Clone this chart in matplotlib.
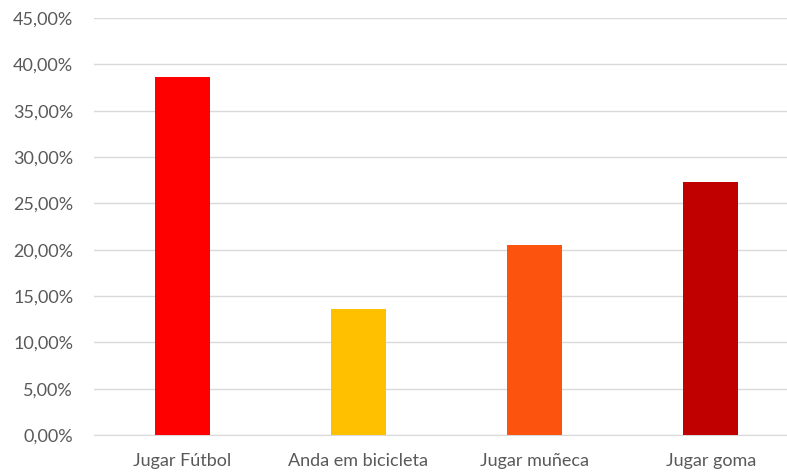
import matplotlib
matplotlib.use("Agg")
import matplotlib.pyplot as plt
from matplotlib.ticker import FuncFormatter, MultipleLocator

# Actividades preferidas (porcentaje de respuestas)
categorias = ["Jugar Fútbol", "Anda em bicicleta", "Jugar muñeca", "Jugar goma"]
porcentajes = [38.64, 13.64, 20.45, 27.27]
colores = ["#FF0000", "#FFC000", "#FC540E", "#C00000"]

plt.rcParams["font.family"] = ["Lato", "DejaVu Sans"]

fig = plt.figure(figsize=(7.87, 4.74), dpi=100)
ax = fig.add_axes([94 / 787, 39 / 474, 705 / 787, 417 / 474])

x = range(len(categorias))
ax.bar(x, porcentajes, width=0.312, color=colores, zorder=3)

ax.set_xlim(-0.5, len(categorias) - 0.5)
ax.set_ylim(0, 45)
ax.yaxis.set_major_locator(MultipleLocator(5))
ax.yaxis.set_major_formatter(FuncFormatter(lambda v, p: f"{v:.2f}%".replace(".", ",")))
ax.set_xticks(list(x))
ax.set_xticklabels(categorias)

ax.grid(axis="y", color="#D9D9D9", linewidth=1.0, zorder=0)
for s in ["top", "right", "left"]:
    ax.spines[s].set_visible(False)
ax.spines["bottom"].set_color("#D9D9D9")
ax.tick_params(axis="both", length=0, colors="#595959", labelsize=13)
ax.tick_params(axis="y", pad=15)
ax.tick_params(axis="x", pad=13)

fig.savefig("out.png", dpi=100)
